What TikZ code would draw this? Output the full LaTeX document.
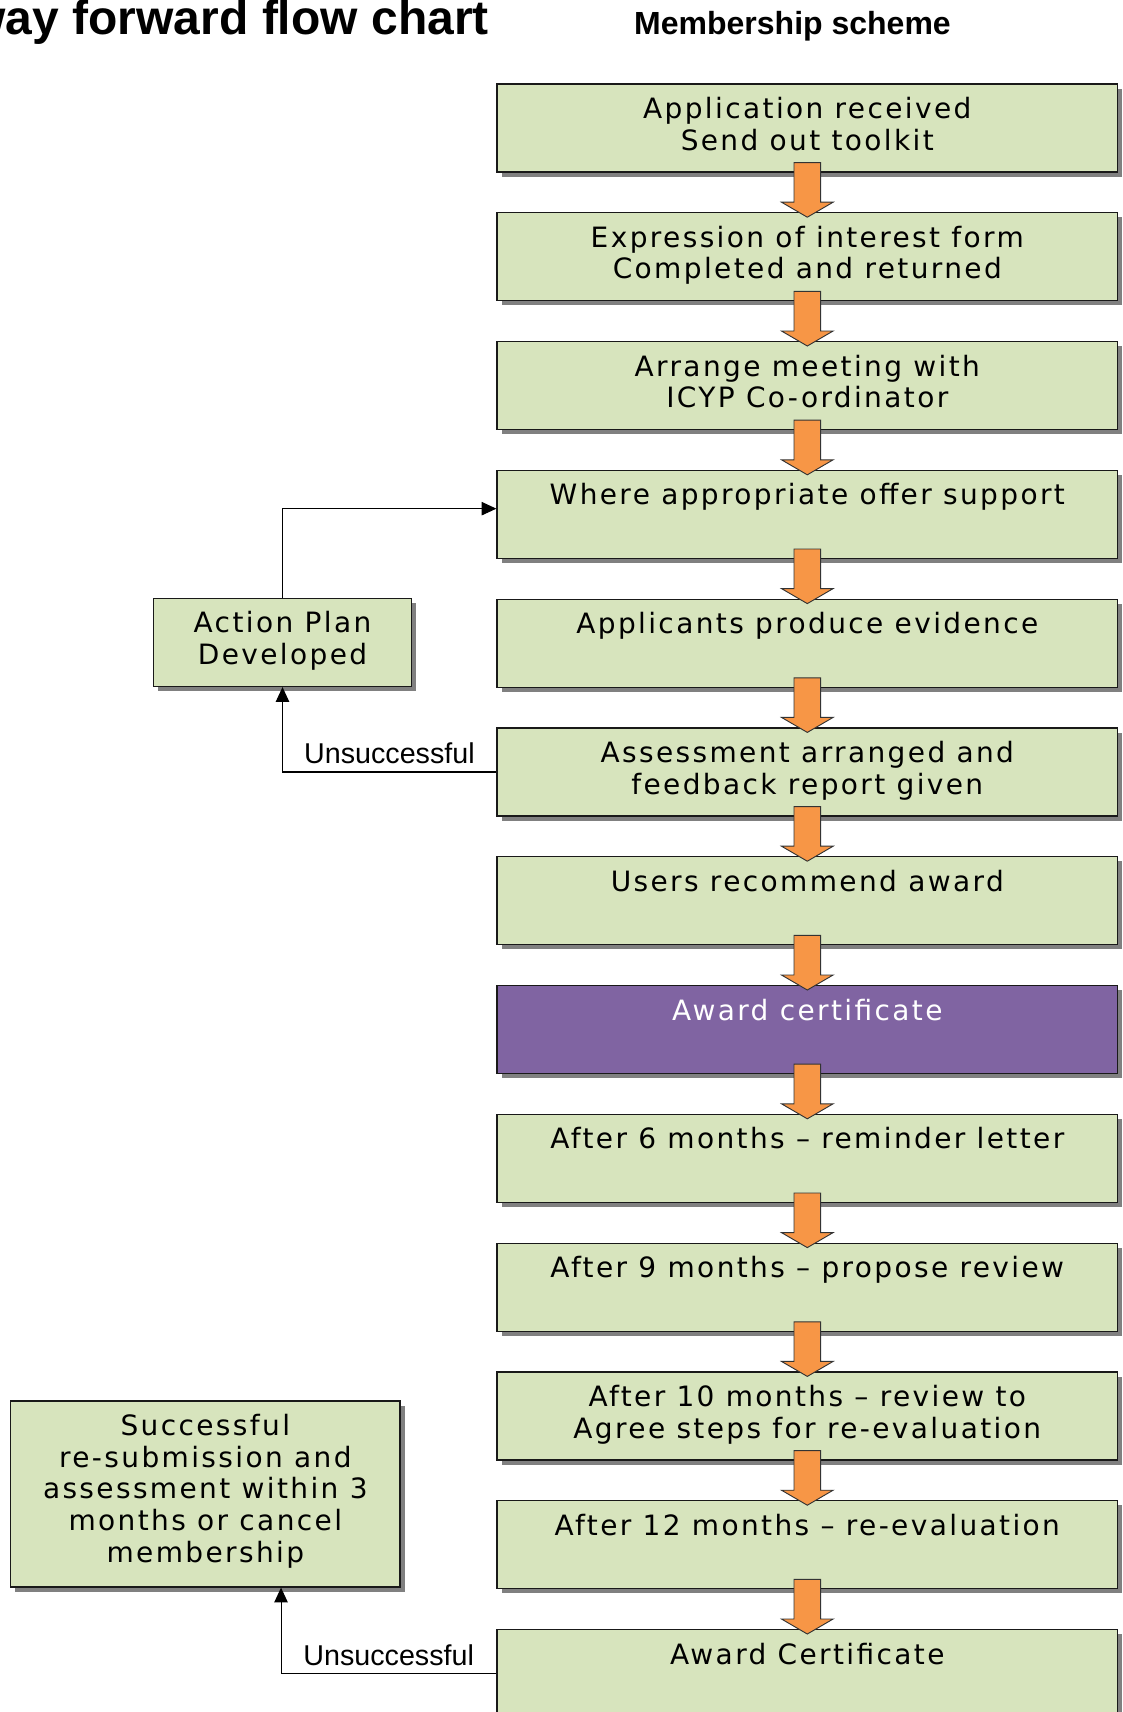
\documentclass[tikz,border=0pt]{standalone}
\usepackage{fontspec}
\usetikzlibrary{calc,shadows,arrows.meta}
\newfontfamily\boxfont[LetterSpace=8.5]{DejaVu Sans}
\newfontfamily\arialfont{Liberation Sans}
\definecolor{boxgreen}{HTML}{D7E4BD}
\definecolor{awardpurple}{HTML}{8064A2}
\definecolor{flowfill}{HTML}{F79646}

\begin{document}
\begin{tikzpicture}[x=0.75pt,y=-0.75pt]
        \tikzstyle{stepbox}=[rectangle,draw=black!90,line width=0.9pt,fill=boxgreen,minimum width=465.5pt,minimum height=66pt,inner sep=2pt,align=center,font=\boxfont\fontsize{21}{23.8}\selectfont,text height=18pt,text depth=32.4pt,drop shadow={shadow xshift=3.4pt,shadow yshift=-3.4pt,opacity=1,fill=black!50}]
        \tikzstyle{twoline}=[text height=41.8pt,text depth=8.6pt]
        \tikzstyle{sidebox}=[stepbox,twoline,minimum width=193.8pt]
        \tikzstyle{link}=[draw,line width=0.8pt,-{Triangle[length=11pt,width=10pt]}]
        \tikzstyle{note}=[font=\arialfont\fontsize{21.5}{24}\selectfont,inner sep=5.5pt]
        \tikzstyle{flow}=[draw=black!80,line width=0.7pt,fill=flowfill,
          to path={($(\tikztostart.south)+(-13.3,-10)$) -- ($(\tikztostart.south)+(13.3,-10)$)
            -- ($(\tikztotarget.north)+(13.3,-10)$) -- ($(\tikztotarget.north)+(25.8,-10)$)
            -- ($(\tikztotarget.north)+(0,5)$) -- ($(\tikztotarget.north)+(-25.8,-10)$)
            -- ($(\tikztotarget.north)+(-13.3,-10)$) -- cycle}]
        \useasboundingbox (0,0) rectangle (1123,1712);

       \begin{scope}
         % headings
         \node [anchor=base east,inner sep=0pt,font=\arialfont\bfseries\fontsize{36}{40}\selectfont] (title) at (489,35) {way forward flow chart};
         \node [anchor=base,inner sep=0pt,font=\arialfont\bfseries\fontsize{24}{28}\selectfont] (scheme) at (792.5,35) {Membership scheme};

         % membership steps
         \node [stepbox,twoline] (b1) at (807.3,128) {Application received\\Send out toolkit};
         \node [stepbox,twoline] (b2) at (807.3,256.8) {Expression of interest form\\Completed and returned};
         \node [stepbox,twoline] (b3) at (807.3,385.6) {Arrange meeting with\\ICYP Co-ordinator};
         \node [stepbox] (b4) at (807.3,514.4) {Where appropriate offer support};
         \node [stepbox] (b5) at (807.3,643.2) {Applicants produce evidence};
         \node [stepbox,twoline] (b6) at (807.3,772) {Assessment arranged and\\feedback report given};
         \node [stepbox] (b7) at (807.3,900.8) {Users recommend award};
         \node [stepbox,fill=awardpurple,text=white] (b8) at (807.3,1029.6) {Award certificate};
         \node [stepbox] (b9) at (807.3,1158.4) {After 6 months – reminder letter};
         \node [stepbox] (b10) at (807.3,1287.2) {After 9 months – propose review};
         \node [stepbox,twoline] (b11) at (807.3,1416) {After 10 months – review to\\Agree steps for re-evaluation};
         \node [stepbox] (b12) at (807.3,1544.8) {After 12 months – re-evaluation};
         \node [stepbox] (b13) at (807.3,1673.6) {Award Certificate};

         % side boxes
         \node [sidebox] (plan) at (282.5,642.5) {Action Plan\\Developed};
         \node [stepbox,minimum width=292pt,minimum height=139.5pt,text height=113.2pt,text depth=10.8pt] (resub) at (205.3,1494) {Successful\\re-submission and\\assessment within 3\\months or cancel\\membership};

         \foreach \a/\b in {b1/b2,b2/b3,b3/b4,b4/b5,b5/b6,b6/b7,b7/b8,b8/b9,b9/b10,b10/b11,b11/b12,b12/b13}
           \path[flow] (\a) to (\b);

         \draw[link] (plan.north) |- ([yshift=4.3pt]b4.west);
         \draw[link] (b6.west) -| (plan.south) node[note,pos=0.25,above] {Unsuccessful};
         \draw[link] (b13.west) -| ([xshift=56.8pt]resub.south) node[note,pos=0.25,above] {Unsuccessful};
        \end{scope}
      \end{tikzpicture}
\end{document}
